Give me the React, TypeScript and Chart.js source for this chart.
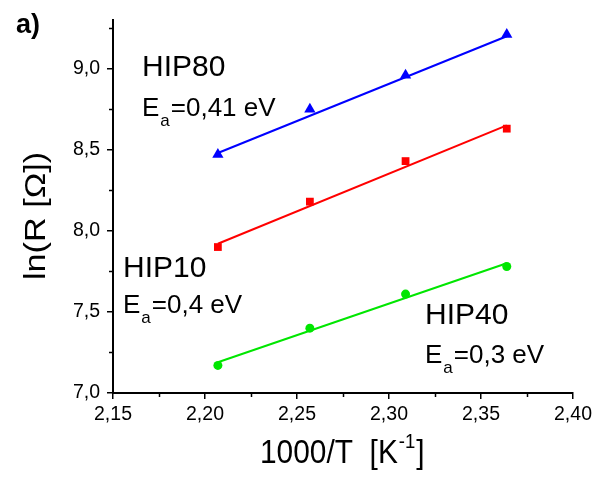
import React, { useEffect, useRef } from "react";
import { Chart, registerables } from "chart.js";

Chart.register(...registerables);

const xValues = [2.207, 2.257, 2.309, 2.364];
const hip80 = [8.47, 8.75, 8.96, 9.21];
const hip10 = [7.9, 8.18, 8.43, 8.63];
const hip40 = [7.17, 7.4, 7.61, 7.78];
const fitX = [2.207, 2.364];
const fit80 = [8.48, 9.2];
const fit10 = [7.92, 8.65];
const fit40 = [7.19, 7.8];

const BLUE = "#0000FF";
const RED = "#FF0000";
const GREEN = "#00E600";
const FONT = "'Liberation Sans', Arial, sans-serif";

const pts = (xs: number[], ys: number[]) => xs.map((x, i) => ({ x, y: ys[i] }));

const labels = [
  { name: "HIP80", ea: "=0,41 eV", x: 142, y: 76, ey: 116 },
  { name: "HIP10", ea: "=0,4 eV", x: 123, y: 277, ey: 313 },
  { name: "HIP40", ea: "=0,3 eV", x: 425, y: 324, ey: 363 },
];

const overlay = {
  id: "overlay",
  afterDraw(chart: any) {
    const ctx = chart.ctx;
    const xs = chart.scales.x;
    const ys = chart.scales.y;
    ctx.save();
    ctx.strokeStyle = "#000";
    ctx.lineWidth = 1.5;
    // minor ticks
    ctx.beginPath();
    for (let v = 2.175; v < 2.4; v += 0.05) {
      const px = Math.round(xs.getPixelForValue(v)) + 0.5;
      ctx.moveTo(px, ys.bottom);
      ctx.lineTo(px, ys.bottom + 4);
    }
    for (let v = 7.25; v < 9.3; v += 0.5) {
      const py = Math.round(ys.getPixelForValue(v)) + 0.5;
      ctx.moveTo(xs.left, py);
      ctx.lineTo(xs.left - 4, py);
    }
    ctx.stroke();

    ctx.fillStyle = "#000";
    ctx.textBaseline = "alphabetic";
    ctx.textAlign = "left";
    // panel label
    ctx.font = `bold 27px ${FONT}`;
    ctx.fillText("a)", 16, 33);

    for (const l of labels) {
      ctx.font = `30px ${FONT}`;
      ctx.fillText(l.name, l.x, l.y);
      ctx.font = `26px ${FONT}`;
      ctx.fillText("E", l.x, l.ey);
      const ew = ctx.measureText("E").width;
      ctx.font = `17px ${FONT}`;
      ctx.fillText("a", l.x + ew + 1, l.ey + 10);
      const aw = ctx.measureText("a").width;
      ctx.font = `26px ${FONT}`;
      ctx.fillText(l.ea, l.x + ew + aw + 2, l.ey);
    }

    // x title
    ctx.save();
    ctx.translate(260, 463);
    ctx.scale(1.03, 1.15);
    ctx.font = `29px ${FONT}`;
    let t = "1000/T  [K";
    ctx.fillText(t, 0, 0);
    let w = ctx.measureText(t).width;
    ctx.font = `18px ${FONT}`;
    ctx.fillText("-1", w + 1, -13);
    w += ctx.measureText("-1").width + 2;
    ctx.font = `29px ${FONT}`;
    ctx.fillText("]", w, 0);
    ctx.restore();

    // y title
    ctx.save();
    ctx.translate(45, 216);
    ctx.rotate(-Math.PI / 2);
    ctx.scale(1.18, 1);
    ctx.font = `29px ${FONT}`;
    ctx.textAlign = "center";
    ctx.fillText("ln(R [\u03A9])", 0, 0);
    ctx.restore();

    ctx.restore();
  },
};

export default function App() {
  const ref = useRef<HTMLCanvasElement>(null);
  useEffect(() => {
    document.body.style.margin = "0";
    const chart = new Chart(ref.current!, {
      type: "scatter",
      data: {
        datasets: [
          { type: "line", data: pts(fitX, fit80), borderColor: BLUE, borderWidth: 2, pointRadius: 0, fill: false },
          { type: "line", data: pts(fitX, fit10), borderColor: RED, borderWidth: 2, pointRadius: 0, fill: false },
          { type: "line", data: pts(fitX, fit40), borderColor: GREEN, borderWidth: 2, pointRadius: 0, fill: false },
          { data: pts(xValues, hip80), pointStyle: "triangle", pointRadius: 6.5, backgroundColor: BLUE, borderColor: BLUE, borderWidth: 0 },
          { data: pts(xValues, hip10), pointStyle: "rect", pointRadius: 5.5, backgroundColor: RED, borderColor: RED, borderWidth: 0 },
          { data: pts(xValues, hip40), pointStyle: "circle", pointRadius: 4.5, backgroundColor: GREEN, borderColor: GREEN, borderWidth: 0 },
        ] as any,
      },
      options: {
        animation: false,
        responsive: false,
        devicePixelRatio: 1,
        layout: { padding: { top: 20, right: 23, left: 0, bottom: 0 } },
        plugins: { legend: { display: false }, tooltip: { enabled: false } },
        scales: {
          x: {
            type: "linear",
            min: 2.15,
            max: 2.4,
            afterFit: (s: any) => { s.height = 85; },
            border: { display: true, color: "#000", width: 2 },
            grid: { drawOnChartArea: false, drawTicks: true, tickLength: 6, color: "#000", lineWidth: 1.5 },
            ticks: {
              stepSize: 0.05,
              padding: 4,
              color: "#000",
              font: { family: FONT, size: 19.5 },
              callback: (v: any) => Number(v).toFixed(2).replace(".", ","),
            },
          },
          y: {
            type: "linear",
            min: 7,
            max: 9.3,
            afterFit: (s: any) => { s.width = 113; },
            afterBuildTicks: (s: any) => {
              s.ticks = s.ticks.filter((t: any) => Math.abs(t.value * 2 - Math.round(t.value * 2)) < 1e-6);
            },
            border: { display: true, color: "#000", width: 2 },
            grid: { drawOnChartArea: false, drawTicks: true, tickLength: 6, color: "#000", lineWidth: 1.5 },
            ticks: {
              stepSize: 0.5,
              padding: 7,
              color: "#000",
              font: { family: FONT, size: 19.5 },
              callback: (v: any) => Number(v).toFixed(1).replace(".", ","),
            },
          },
        },
      } as any,
      plugins: [overlay],
    });
    return () => chart.destroy();
  }, []);
  return <canvas ref={ref} width={596} height={478} style={{ display: "block" }} />;
}
